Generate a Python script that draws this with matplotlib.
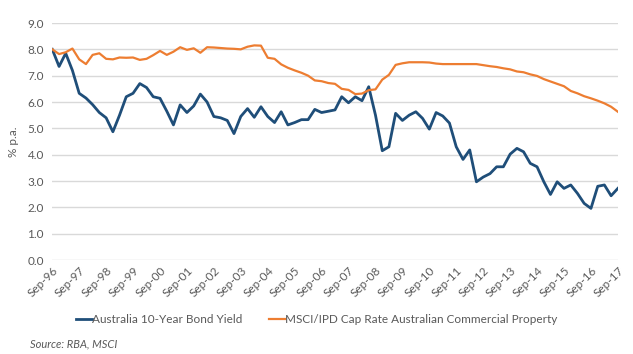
import pandas as pd
import matplotlib
matplotlib.use("Agg")
import matplotlib.pyplot as plt
import matplotlib.dates as mdates

# quarterly observations, Sep-96 .. Sep-17
dates = pd.date_range("1996-09-30", "2017-09-30", freq="QE-DEC")

bond_yield = [8.0, 7.35, 7.85, 7.2, 6.33, 6.15, 5.9, 5.6, 5.4, 4.87,
              5.5, 6.2, 6.33, 6.7, 6.55, 6.2, 6.14, 5.65, 5.13, 5.89,
              5.6, 5.85, 6.3, 6.0, 5.45, 5.4, 5.3, 4.8, 5.45, 5.75,
              5.42, 5.82, 5.45, 5.22, 5.63, 5.13, 5.22, 5.33, 5.33, 5.72,
              5.6, 5.65, 5.7, 6.2, 5.97, 6.2, 6.05, 6.58, 5.5, 4.15,
              4.3, 5.57, 5.3, 5.5, 5.63, 5.38, 4.97, 5.6, 5.47, 5.2,
              4.3, 3.82, 4.18, 2.97, 3.15, 3.28, 3.54, 3.54, 4.02, 4.24,
              4.11, 3.67, 3.54, 2.97, 2.49, 2.97, 2.72, 2.85, 2.53, 2.15,
              1.96, 2.8, 2.85, 2.44, 2.72]

cap_rate = [8.0, 7.82, 7.89, 8.03, 7.62, 7.44, 7.79, 7.85, 7.64, 7.62,
            7.69, 7.68, 7.69, 7.6, 7.64, 7.78, 7.94, 7.79, 7.91, 8.08,
            7.98, 8.04, 7.87, 8.08, 8.07, 8.05, 8.03, 8.02, 8.0, 8.1,
            8.15, 8.14, 7.68, 7.64, 7.43, 7.3, 7.2, 7.11, 7.0, 6.82,
            6.79, 6.72, 6.69, 6.5, 6.46, 6.3, 6.32, 6.45, 6.48, 6.85,
            7.03, 7.41, 7.47, 7.51, 7.51, 7.51, 7.5, 7.46, 7.44, 7.44,
            7.44, 7.44, 7.44, 7.44, 7.4, 7.36, 7.33, 7.28, 7.24, 7.16,
            7.13, 7.05, 6.99, 6.87, 6.78, 6.69, 6.6, 6.42, 6.33, 6.22,
            6.14, 6.05, 5.95, 5.82, 5.63]

plt.rcParams["font.family"] = ["Lato", "DejaVu Sans"]
grey = "#595959"

fig = plt.figure(figsize=(6.33, 3.54), dpi=100)
ax = fig.add_axes([0.0826, 0.2655, 0.8935, 0.6695])

ax.plot(dates, bond_yield, color="#1F4E79", lw=2.0, label="Australia 10-Year Bond Yield",
        solid_joinstyle="round", zorder=3)
ax.plot(dates, cap_rate, color="#ED7D31", lw=1.6,
        label="MSCI/IPD Cap Rate Australian Commercial Property", zorder=3)

ax.set_ylim(0, 9)
ax.set_yticks([i for i in range(10)])
ax.set_yticklabels([f"{i:.1f}" for i in range(10)])
ax.set_xlim(dates[0], dates[-1])
ax.xaxis.set_major_locator(mdates.MonthLocator(bymonth=9, bymonthday=30))
ax.xaxis.set_major_formatter(mdates.DateFormatter("%b-%y"))

ax.grid(axis="y", color="#D9D9D9", lw=1)
ax.set_axisbelow(True)
for s in ax.spines.values():
    s.set_visible(False)
ax.tick_params(length=0, colors=grey, labelsize=8.5)
ax.tick_params(axis="y", pad=6)
plt.setp(ax.get_xticklabels(), rotation=45, ha="right", rotation_mode="anchor")
ax.set_ylabel("% p.a.", color=grey, fontsize=8.5, labelpad=6)

leg = fig.legend(loc="center", bbox_to_anchor=(0.5, 0.098), ncol=2, frameon=False,
                 fontsize=8.5, handlelength=1.4, handletextpad=0.0, columnspacing=2.2)
for t in leg.get_texts():
    t.set_color(grey)

fig.text(0.047, 0.018, "Source: RBA, MSCI", fontsize=8, style="italic", color=grey)

fig.savefig("out.png", dpi=100)
